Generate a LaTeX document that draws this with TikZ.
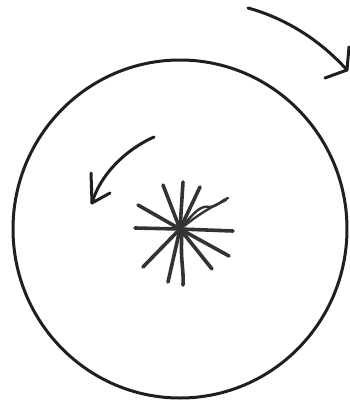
\documentclass[tikz,border=0pt]{standalone}
\begin{document}
\begin{tikzpicture}[x=1pt,y=-1pt,
  ink/.style={draw=black!88,line width=3pt,line cap=round,line join=round},
  ray/.style={draw=black!80,line width=3.6pt,line cap=round}]
\useasboundingbox (0,0) rectangle (350,402);
% big circle
\draw[ink] (180,229) ellipse [x radius=167, y radius=169];
% star
\coordinate (c) at (180,229);
\foreach \p in {(163,185),(183,182),(200,187),(138,205),(135,228),(233,231),(229,256),(212,269),(168,282),(143,267)}
  \draw[ray] (c) -- \p;
\draw[ray] (182,232) .. controls (180,260) and (184,270) .. (183,285);
\draw[ray,line width=2.4pt] (c) .. controls (195,212) and (200,205) .. (210,207) .. controls (218,206) and (222,200) .. (228,198);
\draw[ray,line width=2.4pt] (c) .. controls (190,222) and (200,212) .. (226,200);
% inner arrow
\draw[ink] (154,137) .. controls (125,150) and (100,175) .. (92,203);
\coordinate (t1) at (92,203);
\draw[ink] (t1) -- (91,173);
\draw[ink] (t1) -- (110,193);
% outer arrow
\draw[ink] (248,8) .. controls (285,18) and (320,40) .. (347,70);
\coordinate (t2) at (347,70);
\draw[ink] (t2) -- (349,47);
\draw[ink] (t2) -- (325,78);
\end{tikzpicture}
\end{document}
